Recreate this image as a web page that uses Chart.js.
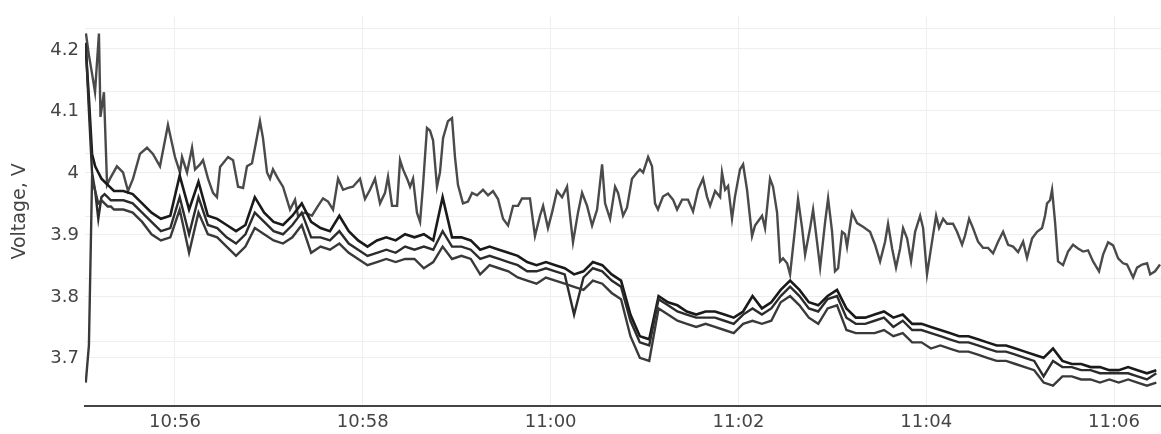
<!DOCTYPE html>
<html>
<head>
<meta charset="utf-8">
<script src="https://cdn.jsdelivr.net/npm/chart.js@4.4.1/dist/chart.umd.min.js"></script>
<style>
  html, body { margin: 0; padding: 0; background: #fff; }
  #voltChart { display: block; }
</style>
</head>
<body>
<canvas id="voltChart" width="1161" height="434"></canvas>
<script>
// seconds after 10:55:00
const tickSeconds = [60, 180, 300, 420, 540, 660];
const tickLabels = ["10:56", "10:58", "11:00", "11:02", "11:04", "11:06"];
const voltTicks = [3.7, 3.8, 3.9, 4.0, 4.1, 4.2];

// upper cell (noisy one)
const upperTimes = [3.1,5.0,7.0,8.9,11.4,12.4,14.6,16.6,18.5,22.9,26.8,30.0,33.2,37.6,42.1,45.9,50.4,55.5,60.0,63.2,64.5,67.7,70.9,72.8,76.0,77.9,81.1,84.3,86.8,88.8,93.9,97.1,100.3,103.5,106.0,109.2,111.1,114.3,116.2,118.8,120.7,122.6,125.8,129.0,133.5,136.7,138.6,143.1,147.5,151.4,154.6,157.8,161.0,164.2,167.4,170.6,173.7,178.2,181.4,184.6,187.8,191.0,194.2,196.1,198.7,201.9,203.8,205.7,208.3,210.2,212.1,214.6,216.6,218.5,221.0,222.9,224.9,227.4,229.3,231.3,234.4,237.0,238.9,240.8,244.0,247.2,249.8,253.0,256.8,260.0,263.2,266.4,269.6,272.8,276.0,279.2,281.7,286.8,290.0,293.2,295.2,298.3,300.9,304.1,307.3,310.5,312.4,314.3,317.5,320.1,323.3,326.5,329.7,332.9,334.8,338.0,341.2,343.1,346.3,348.8,352.0,355.2,357.1,359.1,362.3,364.8,366.7,368.6,371.8,375.0,378.2,380.8,384.0,387.8,391.0,394.2,397.4,399.9,401.9,405.1,408.3,409.5,411.5,413.4,415.9,417.8,421.0,423.0,425.5,428.7,430.6,435.1,437.0,440.2,442.1,444.7,446.6,448.5,451.1,453.0,456.2,458.1,460.7,462.6,465.8,467.7,470.2,472.2,475.4,477.3,479.8,481.7,483.7,486.2,488.1,489.4,492.6,495.8,499.6,504.1,507.3,510.5,513.7,515.6,518.2,520.7,523.3,525.2,527.8,530.3,532.9,536.1,538.0,540.5,543.7,546.3,548.2,550.8,553.3,557.1,559.7,562.9,564.8,567.4,569.9,573.1,576.3,579.5,582.7,585.9,589.1,592.3,595.5,598.7,601.9,604.4,607.6,610.8,614.0,615.9,617.2,619.1,620.4,622.3,624.2,627.4,630.6,633.8,637.0,640.2,643.4,646.6,650.4,653.0,656.2,659.4,662.6,665.8,668.3,672.2,674.7,677.9,681.1,683.1,686.2,689.4];
const upperVolts = [4.225,4.19,4.16,4.13,4.225,4.09,4.13,3.98,3.99,4.01,4.0,3.97,3.99,4.03,4.04,4.03,4.01,4.077,4.025,4.0,4.025,4.0,4.04,4.005,4.013,4.02,3.99,3.967,3.96,4.009,4.025,4.02,3.977,3.975,4.01,4.015,4.04,4.083,4.056,4.0,3.99,4.005,3.99,3.977,3.94,3.956,3.93,3.935,3.93,3.946,3.958,3.953,3.94,3.99,3.972,3.975,3.977,3.99,3.957,3.972,3.99,3.95,3.967,3.993,3.946,3.946,4.02,4.005,3.99,3.977,3.99,3.935,3.92,3.98,4.072,4.068,4.052,3.977,4.0,4.056,4.083,4.088,4.025,3.98,3.95,3.953,3.967,3.963,3.972,3.963,3.97,3.957,3.925,3.914,3.946,3.946,3.958,3.958,3.897,3.93,3.946,3.91,3.935,3.97,3.96,3.977,3.93,3.887,3.935,3.967,3.946,3.914,3.94,4.013,3.95,3.925,3.977,3.967,3.93,3.943,3.99,4.0,4.005,4.0,4.025,4.01,3.95,3.94,3.961,3.966,3.956,3.94,3.956,3.956,3.937,3.972,3.99,3.961,3.946,3.97,3.96,4.0,3.972,3.978,3.925,3.961,4.005,4.013,3.972,3.897,3.914,3.93,3.91,3.99,3.977,3.935,3.856,3.861,3.853,3.835,3.91,3.957,3.91,3.867,3.91,3.94,3.888,3.846,3.92,3.958,3.905,3.84,3.845,3.904,3.9,3.88,3.935,3.918,3.912,3.904,3.883,3.856,3.888,3.917,3.877,3.846,3.877,3.91,3.893,3.856,3.904,3.93,3.91,3.835,3.888,3.93,3.91,3.925,3.917,3.917,3.904,3.883,3.898,3.925,3.91,3.888,3.878,3.878,3.869,3.888,3.904,3.883,3.88,3.871,3.888,3.862,3.893,3.904,3.91,3.93,3.95,3.955,3.972,3.92,3.856,3.85,3.872,3.883,3.877,3.872,3.874,3.856,3.84,3.867,3.887,3.882,3.861,3.853,3.851,3.83,3.846,3.851,3.853,3.835,3.84,3.851];

// the three cells that stay together
const cellTimes = [3,5,7,9,11,13,15,17,19,21,27,33,39,45,51,57,63,69,75,81,87,93,99,105,111,117,123,129,135,141,147,153,159,165,171,177,183,189,195,201,207,213,219,225,231,237,243,249,255,261,267,273,279,285,291,297,303,309,315,321,327,333,339,345,351,357,363,369,375,381,387,393,399,405,411,417,423,429,435,441,447,453,459,465,471,477,483,489,495,501,507,513,519,525,531,537,543,549,555,561,567,573,579,585,591,597,603,609,615,621,627,633,639,645,651,657,663,669,675,681,687];
const cellA = [4.20,4.12,4.03,4.01,4.0,3.99,3.985,3.98,3.975,3.97,
  3.97,3.965,3.95,3.935,3.925,3.93,3.995,3.94,3.985,3.93,3.925,3.915,3.905,3.915,3.96,3.935,3.92,3.915,3.93,3.95,
  3.92,3.91,3.905,3.93,3.905,3.89,3.88,3.89,3.895,3.89,3.90,3.895,3.90,3.89,3.96,3.895,3.895,3.89,3.875,3.88,
  3.875,3.87,3.865,3.855,3.85,3.855,3.85,3.845,3.835,3.84,3.855,3.85,3.835,3.825,3.77,3.735,3.73,3.80,3.79,3.785,
  3.775,3.77,3.775,3.775,3.77,3.765,3.775,3.80,3.78,3.79,3.81,3.825,3.81,3.79,3.785,3.80,3.81,3.78,3.765,3.765,
  3.77,3.775,3.765,3.77,3.755,3.755,3.75,3.745,3.74,3.735,3.735,3.73,3.725,3.72,3.72,3.715,3.71,3.705,3.70,3.715,
  3.695,3.69,3.69,3.685,3.685,3.68,3.68,3.685,3.68,3.675,3.68];
const cellB = [4.21,4.10,4.00,3.97,3.925,3.96,3.965,3.96,3.955,3.955,
  3.955,3.95,3.935,3.92,3.905,3.91,3.96,3.90,3.96,3.915,3.91,3.895,3.885,3.90,3.935,3.92,3.905,3.90,3.915,3.935,
  3.895,3.895,3.89,3.905,3.885,3.875,3.865,3.87,3.875,3.87,3.88,3.875,3.88,3.875,3.905,3.88,3.88,3.875,3.86,3.865,
  3.86,3.855,3.85,3.84,3.84,3.845,3.84,3.835,3.77,3.83,3.845,3.84,3.825,3.815,3.76,3.725,3.72,3.795,3.785,3.775,
  3.77,3.765,3.765,3.765,3.76,3.755,3.77,3.78,3.77,3.78,3.80,3.815,3.80,3.78,3.775,3.795,3.80,3.765,3.755,3.755,
  3.76,3.765,3.75,3.76,3.745,3.745,3.74,3.735,3.73,3.725,3.725,3.72,3.715,3.71,3.71,3.705,3.70,3.695,3.67,3.695,
  3.685,3.685,3.68,3.68,3.675,3.675,3.675,3.675,3.67,3.665,3.675];
const cellC = [3.66,3.72,3.99,3.97,3.95,3.955,3.95,3.945,3.945,3.94,
  3.94,3.935,3.92,3.90,3.89,3.895,3.94,3.87,3.935,3.90,3.895,3.88,3.865,3.88,3.91,3.90,3.89,3.885,3.895,3.915,
  3.87,3.88,3.875,3.885,3.87,3.86,3.85,3.855,3.86,3.855,3.86,3.86,3.845,3.855,3.88,3.86,3.865,3.86,3.835,3.85,
  3.845,3.84,3.83,3.825,3.82,3.83,3.825,3.82,3.815,3.81,3.825,3.82,3.805,3.795,3.735,3.70,3.695,3.78,3.77,3.76,
  3.755,3.75,3.755,3.75,3.745,3.74,3.755,3.76,3.755,3.76,3.79,3.80,3.785,3.765,3.755,3.78,3.785,3.745,3.74,3.74,
  3.74,3.745,3.735,3.74,3.725,3.725,3.715,3.72,3.715,3.71,3.71,3.705,3.70,3.695,3.695,3.69,3.685,3.68,3.66,3.655,
  3.67,3.67,3.665,3.665,3.66,3.665,3.66,3.665,3.66,3.655,3.66];

function pairs(times, volts) {
  return times.map((t, i) => ({ x: t, y: volts[i] }));
}

const fontFamily = "'DejaVu Sans', Verdana, sans-serif";

const voltChart = new Chart(document.getElementById("voltChart"), {
  type: "line",
  data: {
    datasets: [
      { label: "cell 3", data: pairs(cellTimes, cellC), borderColor: "#3a3a3a", borderWidth: 2.4 },
      { label: "cell 2", data: pairs(cellTimes, cellB), borderColor: "#2c2c2c", borderWidth: 2.4 },
      { label: "cell 1", data: pairs(cellTimes, cellA), borderColor: "#1a1a1a", borderWidth: 2.6 },
      { label: "cell 4", data: pairs(upperTimes, upperVolts), borderColor: "#4a4a4a", borderWidth: 2.4 },
    ],
  },
  options: {
    responsive: false,
    devicePixelRatio: 1,
    animation: false,
    elements: { point: { radius: 0 }, line: { tension: 0 } },
    layout: { padding: { top: 8, right: 0, bottom: 0, left: 0 } },
    plugins: { legend: { display: false }, tooltip: { enabled: false } },
    scales: {
      x: {
        type: "linear",
        min: 2.5,
        max: 690,
        afterBuildTicks: (axis) => { axis.ticks = tickSeconds.map((v) => ({ value: v })); },
        afterFit: (axis) => { axis.height = 28; },
        grid: { color: "#eeeeee", drawTicks: false },
        border: { color: "#444444", width: 2 },
        ticks: {
          padding: 6,
          color: "#444444",
          font: { family: fontFamily, size: 18 },
          maxRotation: 0,
          callback: (v) => tickLabels[tickSeconds.indexOf(v)] || "",
        },
      },
      y: {
        min: 3.622,
        max: 4.252,
        afterBuildTicks: (axis) => { axis.ticks = voltTicks.map((v) => ({ value: v })); },
        afterFit: (axis) => { axis.width = 85; },
        grid: { color: "#eeeeee", drawTicks: false },
        border: { display: false },
        ticks: {
          padding: 6,
          labelOffset: 1,
          color: "#444444",
          font: { family: fontFamily, size: 18 },
          callback: (v) => String(Math.round(v * 10) / 10),
        },
        title: {
          display: true,
          text: "Voltage, V",
          color: "#444444",
          font: { family: fontFamily, size: 19 },
          padding: { top: 9, bottom: 0 },
        },
      },
      y2: {
        position: "right",
        min: 3.597,
        max: 4.219,
        afterBuildTicks: (axis) => { axis.ticks = voltTicks.map((v) => ({ value: v })); },
        afterFit: (axis) => { axis.width = 0; },
        grid: { color: "#eeeeee", drawTicks: false },
        border: { display: false },
        ticks: { display: false },
      },
    },
  },
});
</script>
</body>
</html>
